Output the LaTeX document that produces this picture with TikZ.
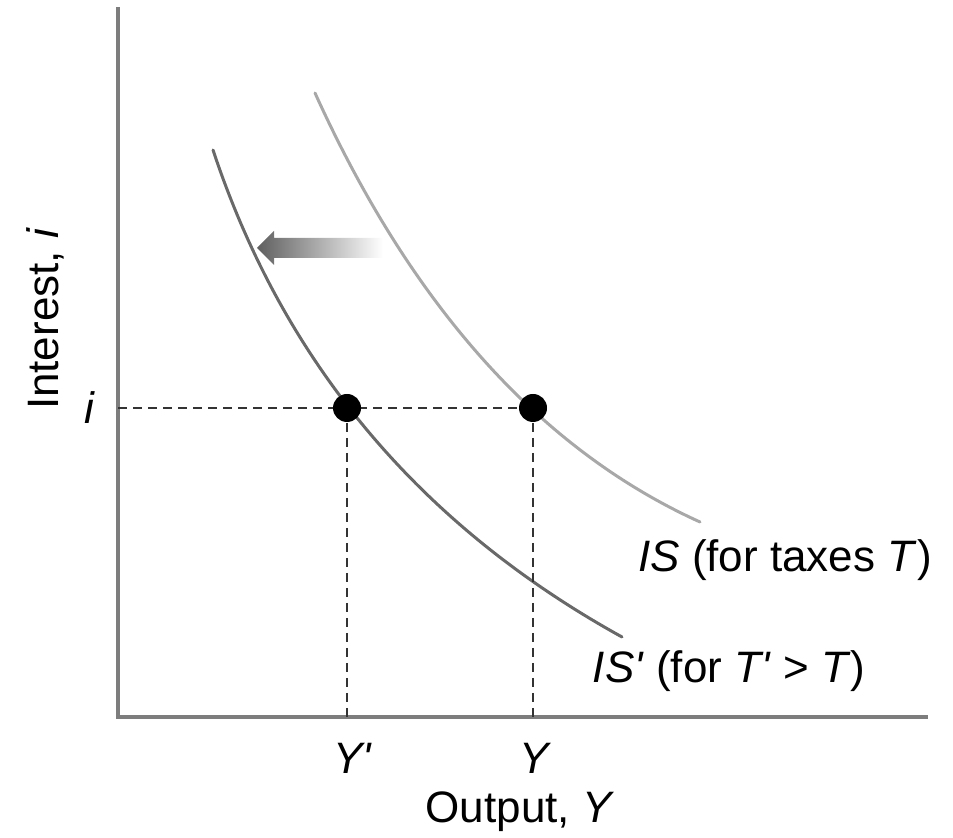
\documentclass[tikz,border=0pt]{standalone}
\usepackage{fontspec}
\setmainfont{Liberation Sans}
\newcommand{\prm}{\XeTeXglyph\the\XeTeXcharglyph"0027\relax}
\definecolor{axisgray}{RGB}{125,125,125}
\definecolor{isold}{RGB}{168,168,168}
\definecolor{isnew}{RGB}{105,105,105}
\definecolor{shiftgray}{RGB}{95,95,95}
\tikzset{
  axisline/.style={axisgray, line width=2pt},
  guide/.style={black!80, line width=0.9pt, dash pattern=on 4.5pt off 3pt},
  dot/.style={circle, fill=black, inner sep=0pt, minimum size=14pt},
  curve/.style={line width=1.5pt, line cap=round}
}
\begin{document}
\begin{tikzpicture}[x=0.5pt, y=0.5pt, font=\fontsize{22}{26}\selectfont]
  \useasboundingbox (-118,-121) rectangle (835,717);
  % axes
  \coordinate (origin) at (0,0);
  \draw[axisline] (0,710) -- (origin) -- (810,0);
  \node[rotate=90] (ylab) at (-73,398) {Interest, \textit{i}};
  \node (xlab) at (402,-95) {Output, \textit{Y}};
  % IS curves
  \draw[curve, isold] (197,624) .. controls (294,410) and (423,267) .. (582,195);
  \draw[curve, isnew] (95,567) .. controls (166,353) and (303,191) .. (504,80);
  \node (islab) at (667,157) {\textit{IS} (for taxes \textit{T})};
  \node (isplab) at (611,46) {\textit{IS\prm} (for \textit{T\prm} > \textit{T})};
  % shift
  \shade[left color=shiftgray, right color=white]
    (139,469) -- (156,486) -- (156,479) -- (265,479) -- (265,459) -- (156,459) -- (156,452) -- cycle;
  % equilibria
  \coordinate (ti) at (0,309);
  \coordinate (eqn) at (229,309);
  \coordinate (eqo) at (415,309);
  \draw[guide] (ti) -- (eqo);
  \draw[guide] (eqn) -- (eqn |- origin);
  \draw[guide] (eqo) -- (eqo |- origin);
  \node[dot] (dn) at (eqn) {};
  \node[dot] (do) at (eqo) {};
  \node (ilab) at (-28,309) {\textit{i}};
  \node (ynew) at (235,-41) {\textit{Y\prm}};
  \node (yold) at (417,-41) {\textit{Y}};
\end{tikzpicture}
\end{document}
